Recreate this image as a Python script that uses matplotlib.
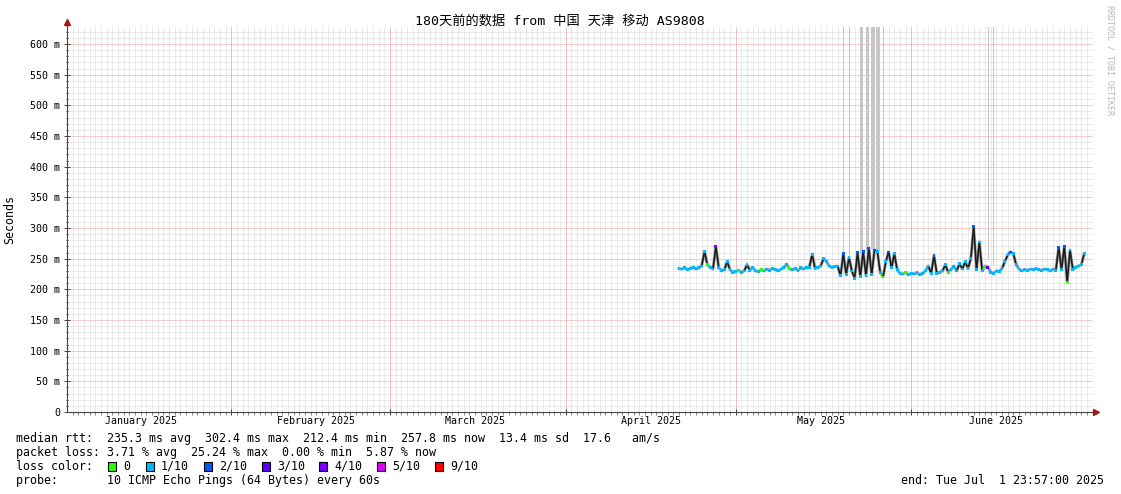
import numpy as np
import pandas as pd
import matplotlib
matplotlib.use('Agg')
import matplotlib.pyplot as plt
import matplotlib.dates as mdates
from matplotlib.patches import Rectangle
from matplotlib.collections import LineCollection

plt.rcParams['font.family'] = ['DejaVu Sans Mono', 'Noto Sans CJK SC']

# Chart data
title = '180天前的数据 from 中国 天津 移动 AS9808'
end_time = pd.Timestamp('2025-07-01 23:57')
start_time = end_time - pd.Timedelta(days=180)

# median RTT [ms], one value every 12 h from 2025-04-21 00:00
sample_start = '2025-04-21 00:00'
median_ms = [
    234, 233, 235, 232, 234, 236, 233, 235, 238, 262, 240, 236,
    233, 270, 236, 230, 232, 245, 232, 228, 229, 231, 228, 230,
    240, 231, 236, 230, 229, 232, 230, 233, 231, 234, 232, 230,
    233, 235, 241, 233, 232, 234, 231, 235, 233, 236, 236, 257,
    234, 236, 238, 250, 246, 238, 236, 237, 238, 222, 258, 224,
    252, 230, 218, 260, 221, 262, 222, 267, 224, 264, 262, 228,
    220, 245, 261, 235, 258, 232, 226, 225, 227, 224, 226, 225,
    227, 224, 226, 230, 238, 226, 255, 226, 228, 230, 240, 228,
    232, 238, 230, 242, 233, 245, 234, 250, 302, 232, 277, 230,
    238, 236, 228, 226, 230, 229, 234, 245, 256, 261, 258, 240,
    233, 230, 232, 231, 233, 232, 234, 232, 231, 233, 232, 230,
    233, 231, 268, 232, 270, 212, 264, 232, 236, 238, 240, 258,
]
# packet loss per sample, in tenths
loss_tenths = [
    1, 1, 1, 1, 1, 1, 1, 1, 1, 1, 0, 1,
    1, 4, 1, 1, 1, 1, 1, 1, 1, 0, 1, 1,
    1, 1, 1, 1, 1, 0, 1, 1, 1, 1, 1, 1,
    1, 1, 1, 0, 1, 1, 1, 1, 1, 1, 1, 1,
    1, 1, 1, 1, 1, 1, 1, 1, 1, 1, 2, 1,
    1, 1, 1, 2, 1, 2, 1, 2, 1, 2, 1, 1,
    0, 1, 2, 1, 1, 1, 1, 1, 0, 1, 1, 1,
    1, 1, 1, 1, 1, 1, 2, 1, 1, 1, 1, 0,
    1, 1, 1, 1, 1, 1, 1, 1, 2, 1, 1, 1,
    0, 3, 1, 1, 1, 1, 1, 1, 1, 2, 1, 1,
    1, 1, 1, 1, 1, 1, 1, 1, 1, 1, 1, 1,
    1, 1, 2, 1, 2, 0, 1, 1, 1, 1, 1, 1,
]

loss_values = [0, 1, 2, 3, 4, 5, 9]
loss_labels = ['0', '1/10', '2/10', '3/10', '4/10', '5/10', '9/10']
loss_colors = ['#26ff00', '#00b8ff', '#0059ff', '#5e00ff', '#7e00ff', '#dd00ff', '#ff0000']

# smoke going off the top of the graph
spike_start = ['2025-05-19 22:00', '2025-05-21 01:00', '2025-05-22 22:20',
               '2025-05-23 23:40', '2025-05-24 19:40', '2025-05-25 16:50',
               '2025-05-27 01:00', '2025-06-14 13:00', '2025-06-15 08:00']
spike_hours = [4, 4, 11, 11, 17, 18, 4, 4, 8]
spike_from = [255, 255, 258, 262, 265, 262, 255, 250, 240]

y_ticks = list(range(0, 601, 50))
y_labels = ['0'] + [f'{v} m' for v in y_ticks[1:]]
month_starts = ['2025-02-01', '2025-03-01', '2025-04-01', '2025-05-01', '2025-06-01']
month_mid = ['2025-01-16', '2025-02-16', '2025-03-16', '2025-04-16', '2025-05-16', '2025-06-16']
month_labels = ['January 2025', 'February 2025', 'March 2025', 'April 2025', 'May 2025', 'June 2025']

legend_lines = [
    'median rtt:  235.3 ms avg  302.4 ms max  212.4 ms min  257.8 ms now  13.4 ms sd  17.6   am/s',
    'packet loss: 3.71 % avg  25.24 % max  0.00 % min  5.87 % now',
    'loss color:',
    'probe:       10 ICMP Echo Pings (64 Bytes) every 60s',
]
end_text = 'end: Tue Jul  1 23:57:00 2025'

W, H = 1121, 494
fig = plt.figure(figsize=(W / 100, H / 100), dpi=100)
ax = fig.add_axes([67 / W, (H - 412) / H, (1093 - 67) / W, (412 - 27) / H])

t = mdates.date2num(pd.date_range(sample_start, periods=len(median_ms), freq='12h'))
t0 = mdates.date2num(start_time)
t1 = mdates.date2num(end_time)
x_right = t1 + (1093 - 1087) / 1020 * (t1 - t0)
ytop = 627.7
ax.set_xlim(t0, x_right)
ax.set_ylim(0, ytop)

# grid, dotted like rrdtool
dot = (0, (1, 1))
minor_y = [v for v in range(10, 628, 10) if v % 50]
days = mdates.date2num(pd.date_range('2025-01-04', '2025-07-02', freq='D'))
months = mdates.date2num(pd.to_datetime(month_starts))
ax.hlines(minor_y, t0, x_right, colors='#d6d6d6', linestyles=dot, lw=0.72, zorder=0)
ax.vlines(days, 0, ytop, colors='#d6d6d6', linestyles=dot, lw=0.72, zorder=0)
ax.hlines(y_ticks[1:], t0, x_right, colors='#ee9c9c', linestyles=dot, lw=0.72, zorder=0.5)
ax.vlines(months, 0, ytop, colors='#ee9c9c', linestyles=dot, lw=0.72, zorder=0.5)

# off-scale smoke
sp_x = mdates.date2num(pd.to_datetime(spike_start))
sp_w = np.array(spike_hours) / 24
ax.bar(sp_x, 700 - np.array(spike_from), width=sp_w, bottom=spike_from, align='edge',
       color='#c6c6c6', lw=0, zorder=1)

# smoke + median coloured by loss
med = np.array(median_ms)
cols = [loss_colors[loss_values.index(v)] for v in loss_tenths]
ax.plot(t, med, color='#a8a8a8', lw=2.2, zorder=2)
pts = np.column_stack([t, med])
segs = np.stack([pts[:-1], pts[1:]], axis=1)
seg_cols = ['#1a1a1a' if abs(b - a) > 8 else c for a, b, c in zip(med[:-1], med[1:], cols[1:])]
ax.add_collection(LineCollection(segs, colors=seg_cols, linewidths=1.2, zorder=3))
ax.scatter(t, med, c=cols, s=4, marker='s', lw=0, zorder=4)

# axes
for s in ['top', 'right']:
    ax.spines[s].set_visible(False)
for s in ['left', 'bottom']:
    ax.spines[s].set_color('#444444')
    ax.spines[s].set_linewidth(0.8)
ax.plot([0, 0], [1, 1 + 4 / 385], color='#444444', lw=0.8, transform=ax.transAxes, clip_on=False)
ax.plot([1, 1 + 2 / 1026], [0, 0], color='#444444', lw=0.8, transform=ax.transAxes, clip_on=False)
ax.plot([0], [1 + 5 / 385], marker='^', ms=4, color='#a01818', transform=ax.transAxes, clip_on=False)
ax.plot([1 + 3 / 1026], [0], marker='>', ms=4, color='#a01818', transform=ax.transAxes, clip_on=False)

ax.set_yticks(y_ticks, y_labels)
ax.set_yticks(minor_y, minor=True)
ax.tick_params(axis='y', which='major', direction='inout', length=4, width=0.7,
               color='#444444', labelsize=7.2, pad=3)
ax.tick_params(axis='y', which='minor', direction='inout', length=2, width=0.7, color='#444444')
ax.set_xticks(months, [''] * len(months))
ax.set_xticks(days, minor=True)
ax.tick_params(axis='x', which='major', direction='inout', length=4, width=0.7, color='#444444')
ax.tick_params(axis='x', which='minor', direction='out', length=2, width=0.6, color='#777777')
for d, lab in zip(mdates.date2num(pd.to_datetime(month_mid)), month_labels):
    ax.text(d, -9 / 385 * ytop, lab, ha='center', va='center', fontsize=7.2)

fig.text(560 / W, 1 - 21 / H, title, ha='center', va='center', fontsize=9.5)
fig.text(10 / W, 1 - 219 / H, 'Seconds', rotation=90, ha='center', va='center', fontsize=8.4)
fig.text(1110 / W, 1 - 5 / H, 'RRDTOOL / TOBI OETIKER', rotation=-90, ha='center', va='top',
         fontsize=6, color='#b8b8b8')

# legend area
def put(x, y, s, ha='left'):
    fig.text(x / W, 1 - y / H, s, va='center', ha=ha, fontsize=8.4)

for y, s in zip([438, 452, 466, 480], legend_lines):
    put(16, y, s)
for bx, lab, c in zip([108, 146, 204, 262, 319, 377, 435], loss_labels, loss_colors):
    fig.patches.append(Rectangle((bx / W, 1 - 470.5 / H), 8 / W, 9 / H, transform=fig.transFigure,
                                 facecolor=c, edgecolor='black', lw=0.8))
    put(bx + 15, 466, lab)
put(1104, 480, end_text, ha='right')

fig.savefig('out.png', dpi=100, facecolor='white')
